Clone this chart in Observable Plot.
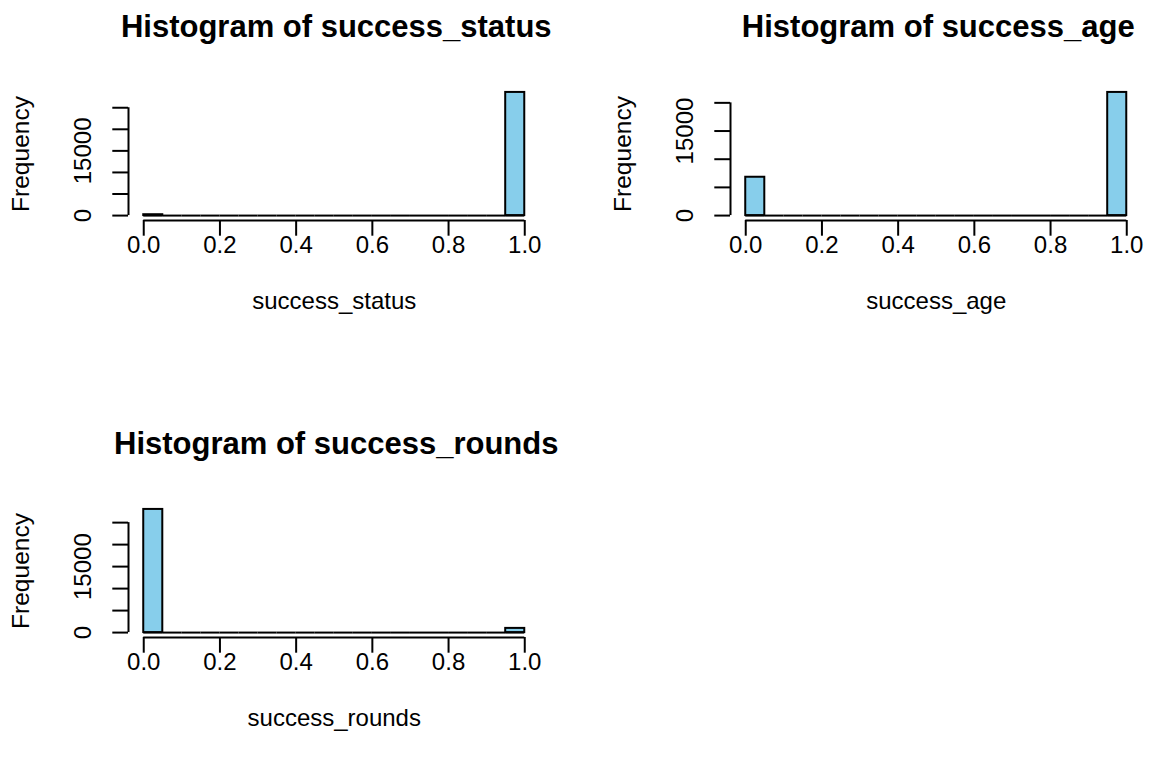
<!DOCTYPE html>
<html>
<head>
<meta charset="utf-8">
<script src="https://cdn.jsdelivr.net/npm/d3@7"></script>
<script src="https://cdn.jsdelivr.net/npm/@observablehq/plot@0.6"></script>
<style>
  html, body { margin: 0; padding: 0; background: #fff; }
  #chart { position: relative; width: 1149px; height: 760px; background: #fff; }
  .panel { position: absolute; }
</style>
</head>
<body>
<div id="chart"></div>
<script>
// Bin edges (width 0.05) shared by all three histograms
const binStarts = [0.00, 0.05, 0.10, 0.15, 0.20, 0.25, 0.30, 0.35, 0.40, 0.45,
                   0.50, 0.55, 0.60, 0.65, 0.70, 0.75, 0.80, 0.85, 0.90, 0.95];
const binEnds   = [0.05, 0.10, 0.15, 0.20, 0.25, 0.30, 0.35, 0.40, 0.45, 0.50,
                   0.55, 0.60, 0.65, 0.70, 0.75, 0.80, 0.85, 0.90, 0.95, 1.00];

// Frequencies
const statusCounts = [200, 0, 0, 0, 0, 0, 0, 0, 0, 0, 0, 0, 0, 0, 0, 0, 0, 0, 0, 28550];
const ageCounts    = [6800, 0, 0, 0, 0, 0, 0, 0, 0, 0, 0, 0, 0, 0, 0, 0, 0, 0, 0, 21850];
const roundsCounts = [28000, 0, 0, 0, 0, 0, 0, 0, 0, 0, 0, 0, 0, 0, 0, 0, 0, 0, 0, 950];

// Axis ticks and labels
const xTicks = [0, 0.2, 0.4, 0.6, 0.8, 1.0];
const yTicksStatus = [0, 5000, 10000, 15000, 20000, 25000];
const yTicksAge    = [0, 5000, 10000, 15000, 20000];
const yTicksRounds = [0, 5000, 10000, 15000, 20000, 25000];
const yTickLabels  = [0, 15000];

const titles = ["Histogram of success_status", "Histogram of success_age", "Histogram of success_rounds"];
const xLabels = ["success_status", "success_age", "success_rounds"];
const yLabel = "Frequency";

const panels = [
  {counts: statusCounts, yTicks: yTicksStatus, title: titles[0], xlab: xLabels[0], left: 0,   top: 0,   width: 575},
  {counts: ageCounts,    yTicks: yTicksAge,    title: titles[1], xlab: xLabels[1], left: 602, top: 0,   width: 547},
  {counts: roundsCounts, yTicks: yTicksRounds, title: titles[2], xlab: xLabels[2], left: 0,   top: 417, width: 575}
];

const FONT = "'Liberation Sans', Arial, Helvetica, sans-serif";
const chart = document.getElementById("chart");

for (const p of panels) {
  const bins = binStarts.map((x0, i) => ({x0, x1: binEnds[i], count: p.counts[i]}));
  const maxCount = d3.max(p.counts);
  const xDomain = [0 - 0.04 * (1 - 0), 1 + 0.04 * (1 - 0)];
  const yDomain = [-0.04 * maxCount, 1.04 * maxCount];
  const height = 343;
  const plot = Plot.plot({
    width: p.width,
    height,
    marginLeft: 128,
    marginRight: p.width - 539.5,
    marginTop: 87,
    marginBottom: height - 220,
    style: {fontFamily: FONT, fontSize: "24px", color: "black", background: "white", overflow: "visible"},
    x: {domain: xDomain},
    y: {domain: yDomain},
    marks: [
      // baseline of empty bins
      Plot.ruleY(bins, {y: 0, x1: "x0", x2: "x1", stroke: "black", strokeWidth: 2}),
      // bars
      Plot.rectY(bins, {x1: "x0", x2: "x1", y1: 0, y2: "count", fill: "#87CEEB", stroke: "black", strokeWidth: 2}),
      // axis lines (R style: from first to last tick)
      Plot.ruleX([xDomain[0]], {y1: p.yTicks[0], y2: p.yTicks[p.yTicks.length - 1], stroke: "black", strokeWidth: 2}),
      Plot.ruleY([yDomain[0]], {x1: xTicks[0], x2: xTicks[xTicks.length - 1], stroke: "black", strokeWidth: 2}),
      Plot.axisY({ticks: p.yTicks, tickSize: 15.7, tickFormat: () => "", label: null, strokeWidth: 2}),
      Plot.axisX({ticks: xTicks, tickSize: 15.7, tickPadding: -0.7, tickFormat: d3.format(".1f"), label: null, strokeWidth: 2, fontSize: 24}),
      // rotated y tick labels
      Plot.text(yTickLabels, {y: d => d, text: d => String(d), frameAnchor: "left", dx: -38, rotate: -90,
                              textAnchor: "middle", lineAnchor: "bottom", fontSize: 24, fill: "black"}),
      // y label
      Plot.text([yLabel], {frameAnchor: "left", dx: -100, rotate: -90, textAnchor: "middle", lineAnchor: "bottom",
                           fontSize: 24.5, fill: "black"}),
      // x label
      Plot.text([p.xlab], {frameAnchor: "bottom", dy: 88, lineAnchor: "bottom", fontSize: 24, fill: "black"}),
      // title
      Plot.text([p.title], {frameAnchor: "top", dy: -51, dx: 2, lineAnchor: "bottom", fontSize: 31, fontWeight: "bold", fill: "black"})
    ]
  });
  const div = document.createElement("div");
  div.className = "panel";
  div.style.left = p.left + "px";
  div.style.top = p.top + "px";
  div.appendChild(plot);
  chart.appendChild(div);
}
</script>
</body>
</html>
